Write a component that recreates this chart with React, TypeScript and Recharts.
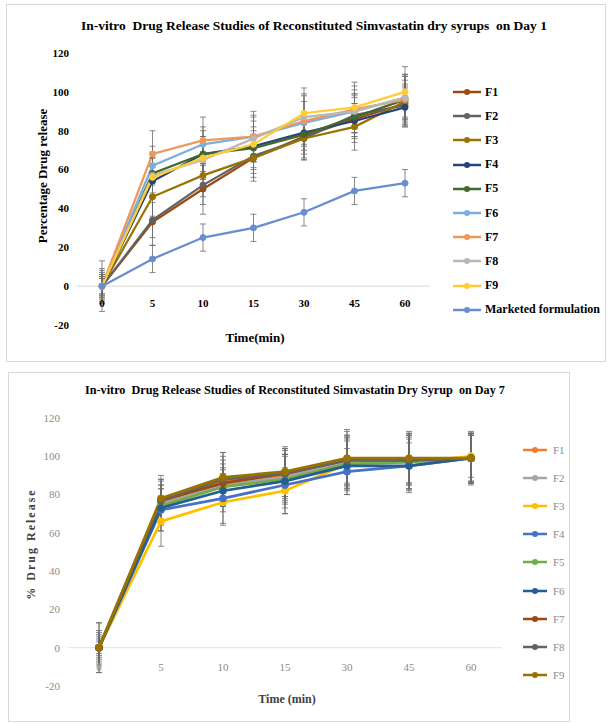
import { ErrorBar, Line, LineChart, ReferenceLine, XAxis, YAxis } from "recharts";

const FONT = "'Liberation Serif', 'Times New Roman', serif";

const TIMES = ["0", "5", "10", "15", "30", "45", "60"];
const Y_TICKS = [-20, 0, 20, 40, 60, 80, 100, 120];

// Day 1 — nine formulations plus the marketed product
const DAY1_NAMES = ["F1", "F2", "F3", "F4", "F5", "F6", "F7", "F8", "F9", "Marketed formulation"];
const DAY1_COLORS = [
  "#9E480E", "#636363", "#997300", "#264478", "#43682B",
  "#7CAFDD", "#F1975A", "#B7B7B7", "#FFCD33", "#698ED0",
];
const DAY1_VALUES = [
  [0, 33, 50, 66, 77, 86, 94],
  [0, 34, 52, 67, 76, 88, 93],
  [0, 46, 57, 66, 76, 82, 95],
  [0, 54, 68, 72, 79, 85, 92],
  [0, 58, 68, 71, 78, 87, 96],
  [0, 62, 73, 77, 84, 90, 97],
  [0, 68, 75, 77, 85, 91, 96],
  [0, 57, 65, 76, 87, 90, 97],
  [0, 56, 66, 73, 89, 92, 100],
  [0, 14, 25, 30, 38, 49, 53],
];
const DAY1_SD = [
  [4, 12, 13, 12, 12, 12, 12],
  [13, 9, 10, 9, 10, 11, 10],
  [7, 10, 11, 10, 11, 12, 9],
  [5, 8, 9, 8, 9, 9, 10],
  [9, 11, 12, 11, 10, 10, 12],
  [6, 10, 9, 10, 11, 9, 11],
  [8, 12, 12, 13, 13, 12, 13],
  [5, 9, 10, 12, 12, 11, 12],
  [6, 10, 11, 12, 13, 13, 13],
  [4, 7, 7, 7, 7, 7, 7],
];

// Day 7 — nine formulations
const DAY7_NAMES = ["F1", "F2", "F3", "F4", "F5", "F6", "F7", "F8", "F9"];
const DAY7_COLORS = [
  "#ED7D31", "#A5A5A5", "#FFC000", "#4472C4", "#70AD47",
  "#255E91", "#9E480E", "#636363", "#997300",
];
const DAY7_VALUES = [
  [0, 76, 87, 90, 98, 98, 99],
  [0, 75, 85, 89, 97, 98, 99],
  [0, 66, 76, 82, 96, 97, 100],
  [0, 72, 78, 85, 92, 95, 99],
  [0, 74, 84, 88, 96, 97, 99],
  [0, 73, 82, 87, 95, 95, 99],
  [0, 77, 86, 91, 98, 98, 99],
  [0, 77, 88, 91, 98, 98, 99],
  [0, 78, 89, 92, 99, 99, 99],
];
const DAY7_SD = [
  [13, 12, 13, 14, 13, 13, 13],
  [4, 10, 11, 12, 14, 13, 12],
  [9, 13, 12, 12, 12, 14, 11],
  [6, 11, 13, 15, 12, 12, 13],
  [5, 9, 10, 13, 13, 15, 12],
  [8, 12, 11, 14, 15, 14, 13],
  [3, 10, 12, 13, 16, 15, 13],
  [13, 11, 14, 12, 12, 12, 13],
  [7, 12, 13, 13, 14, 13, 14],
];

function buildRows(values: number[][], sds: number[][]) {
  return TIMES.map((t, i) => {
    const row: Record<string, string | number> = { time: t };
    values.forEach((v, s) => {
      row[`s${s}`] = v[i];
      row[`e${s}`] = sds[s][i];
    });
    return row;
  });
}

function XTick(props: any) {
  const { x, y, payload, lift, fill, bold } = props;
  return (
    <text
      x={x}
      y={y - lift}
      dy="0.35em"
      textAnchor="middle"
      fill={fill}
      fontSize={11}
      fontWeight={bold ? 700 : 400}
      fontFamily={FONT}
    >
      {payload.value}
    </text>
  );
}

function LegendList({
  names,
  colors,
  left,
  top,
  step,
  lineW,
  gap,
  fontSize,
  textColor,
  bold,
}: {
  names: string[];
  colors: string[];
  left: number;
  top: number;
  step: number;
  lineW: number;
  gap: number;
  fontSize: number;
  textColor: string;
  bold: boolean;
}) {
  return (
    <div style={{ position: "absolute", left, top }}>
      {names.map((n, i) => (
        <div
          key={n}
          style={{
            position: "absolute",
            top: i * step - 8,
            height: 16,
            display: "flex",
            alignItems: "center",
            whiteSpace: "nowrap",
          }}
        >
          <svg width={lineW} height={10} style={{ marginRight: gap }}>
            <line x1={0} y1={5} x2={lineW} y2={5} stroke={colors[i]} strokeWidth={2.5} />
            <circle cx={lineW / 2} cy={5} r={3} fill={colors[i]} />
          </svg>
          <span
            style={{ fontSize, fontWeight: bold ? 700 : 400, color: textColor, fontFamily: FONT }}
          >
            {n}
          </span>
        </div>
      ))}
    </div>
  );
}

const day1Rows = buildRows(DAY1_VALUES, DAY1_SD);
const day7Rows = buildRows(DAY7_VALUES, DAY7_SD);

export default function App() {
  return (
    <div
      style={{
        position: "absolute",
        left: 0,
        top: 0,
        width: 608,
        height: 724,
        background: "#fff",
        fontFamily: FONT,
        overflow: "hidden",
      }}
    >
      {/* Day 1 panel */}
      <div style={{ position: "absolute", left: 6, top: 4, width: 600, height: 358 }}>
        <div
          style={{
            position: "absolute",
            left: 308,
            top: 22,
            transform: "translate(-50%, -50%)",
            fontSize: 13.5,
            fontWeight: 700,
            whiteSpace: "pre",
          }}
        >
          {"In-vitro  Drug Release Studies of Reconstituted Simvastatin dry syrups  on Day 1"}
        </div>
        <div
          style={{
            position: "absolute",
            left: 37,
            top: 172,
            transform: "translate(-50%, -50%) rotate(-90deg)",
            fontSize: 13,
            fontWeight: 700,
            whiteSpace: "nowrap",
          }}
        >
          Percentage Drug release
        </div>
        <div
          style={{
            position: "absolute",
            left: 249,
            top: 334,
            transform: "translate(-50%, -50%)",
            fontSize: 13,
            fontWeight: 700,
            whiteSpace: "nowrap",
          }}
        >
          Time(min)
        </div>
        <LineChart
          width={600}
          height={358}
          data={day1Rows}
          margin={{ top: 49, right: 176, bottom: 7, left: 0 }}
        >
          <XAxis
            dataKey="time"
            height={30}
            axisLine={false}
            tickLine={false}
            padding={{ left: 25, right: 25 }}
            interval={0}
            tick={(p: any) => <XTick {...p} lift={30} fill="#000" bold />}
          />
          <YAxis
            width={71}
            domain={[-20, 120]}
            ticks={Y_TICKS}
            axisLine={false}
            tickLine={false}
            tick={{ fill: "#000", fontSize: 11, fontWeight: 700, fontFamily: FONT }}
          />
          <ReferenceLine y={0} stroke="#d9d9d9" strokeWidth={1} />
          {DAY1_NAMES.map((n, s) => (
            <Line
              key={n}
              dataKey={`s${s}`}
              name={n}
              stroke={DAY1_COLORS[s]}
              strokeWidth={2.25}
              dot={{ r: 3, fill: DAY1_COLORS[s], stroke: DAY1_COLORS[s], strokeWidth: 1 }}
              isAnimationActive={false}
            >
              <ErrorBar
                dataKey={`e${s}`}
                width={3}
                stroke="#6b6b6b"
                strokeWidth={0.8}
                isAnimationActive={false}
              />
            </Line>
          ))}
        </LineChart>
        <LegendList
          names={DAY1_NAMES}
          colors={DAY1_COLORS}
          left={447}
          top={88}
          step={24.2}
          lineW={28}
          gap={4}
          fontSize={12}
          textColor="#000"
          bold
        />
      </div>
      <div
        style={{
          position: "absolute",
          left: 6,
          top: 4,
          width: 600,
          height: 358,
          border: "1px solid #d9d9d9",
          boxSizing: "border-box",
        }}
      />

      {/* Day 7 panel */}
      <div style={{ position: "absolute", left: 8, top: 372, width: 562, height: 350 }}>
        <div
          style={{
            position: "absolute",
            left: 287,
            top: 18,
            transform: "translate(-50%, -50%)",
            fontSize: 12.2,
            fontWeight: 700,
            whiteSpace: "pre",
          }}
        >
          {"In-vitro  Drug Release Studies of Reconstituted Simvastatin Dry Syrup  on Day 7"}
        </div>
        <div
          style={{
            position: "absolute",
            left: 23,
            top: 172,
            transform: "translate(-50%, -50%) rotate(-90deg)",
            fontSize: 12,
            fontWeight: 700,
            letterSpacing: 2,
            color: "#404040",
            whiteSpace: "nowrap",
          }}
        >
          % Drug Release
        </div>
        <div
          style={{
            position: "absolute",
            left: 279,
            top: 327,
            transform: "translate(-50%, -50%)",
            fontSize: 12,
            fontWeight: 700,
            color: "#404040",
            whiteSpace: "nowrap",
          }}
        >
          Time (min)
        </div>
        <LineChart
          width={562}
          height={350}
          data={day7Rows}
          margin={{ top: 46, right: 68, bottom: 6, left: 0 }}
        >
          <XAxis
            dataKey="time"
            height={30}
            axisLine={false}
            tickLine={false}
            padding={{ left: 31, right: 31 }}
            interval={0}
            tick={(p: any) => <XTick {...p} lift={27} fill="#8c8c8c" />}
          />
          <YAxis
            width={60}
            domain={[-20, 120]}
            ticks={Y_TICKS}
            axisLine={false}
            tickLine={false}
            tick={{ fill: "#8c8c8c", fontSize: 11, fontFamily: FONT }}
          />
          <ReferenceLine y={0} stroke="#e3e3e3" strokeWidth={1} />
          {DAY7_NAMES.map((n, s) => (
            <Line
              key={n}
              dataKey={`s${s}`}
              name={n}
              stroke={DAY7_COLORS[s]}
              strokeWidth={2.75}
              dot={{ r: 3.5, fill: DAY7_COLORS[s], stroke: DAY7_COLORS[s], strokeWidth: 1 }}
              isAnimationActive={false}
            >
              <ErrorBar
                dataKey={`e${s}`}
                width={3}
                stroke="#6b6b6b"
                strokeWidth={0.8}
                isAnimationActive={false}
              />
            </Line>
          ))}
        </LineChart>
        <LegendList
          names={DAY7_NAMES}
          colors={DAY7_COLORS}
          left={515}
          top={78}
          step={28.1}
          lineW={24}
          gap={6}
          fontSize={11}
          textColor="#8c8c8c"
          bold={false}
        />
      </div>
      <div
        style={{
          position: "absolute",
          left: 8,
          top: 372,
          width: 562,
          height: 350,
          border: "1px solid #d9d9d9",
          boxSizing: "border-box",
        }}
      />
    </div>
  );
}
